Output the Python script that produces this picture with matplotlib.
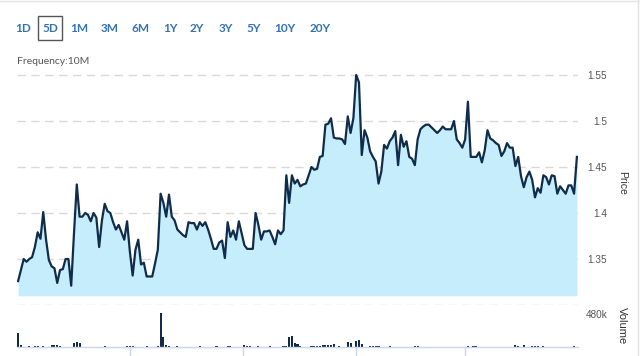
import matplotlib
matplotlib.use("Agg")
import matplotlib.pyplot as plt
from matplotlib.lines import Line2D
from matplotlib.patches import Rectangle
import numpy as np

# ---------------- data ----------------
prices = [
    # day 1
    1.326, 1.338, 1.350, 1.347, 1.350, 1.352, 1.363, 1.379, 1.372, 1.401,
    1.371, 1.349, 1.342, 1.340, 1.324, 1.338, 1.339, 1.350, 1.350, 1.321,
    1.378, 1.431, 1.396, 1.396, 1.400, 1.398, 1.391, 1.400, 1.395, 1.363,
    1.392, 1.410, 1.402, 1.400, 1.390, 1.382, 1.387, 1.379, 1.371, 1.391,
    # day 2
    1.358, 1.332, 1.360, 1.371, 1.344, 1.346, 1.331, 1.331, 1.331, 1.345,
    1.360, 1.421, 1.411, 1.396, 1.420, 1.396, 1.392, 1.382, 1.379, 1.376,
    1.374, 1.390, 1.389, 1.389, 1.382, 1.390, 1.386, 1.390, 1.382, 1.372,
    1.361, 1.361, 1.368, 1.370, 1.351, 1.390, 1.374, 1.381, 1.371, 1.391,
    1.378,
    # day 3
    1.365, 1.361, 1.361, 1.361, 1.400, 1.387, 1.371, 1.380, 1.380, 1.381,
    1.374, 1.366, 1.381, 1.377, 1.381, 1.441, 1.411, 1.441, 1.432, 1.436,
    1.429, 1.431, 1.432, 1.441, 1.450, 1.447, 1.448, 1.461, 1.462, 1.496,
    1.497, 1.503, 1.482, 1.481, 1.481, 1.480, 1.475, 1.505, 1.487, 1.503,
    # day 4
    1.550, 1.542, 1.463, 1.490, 1.482, 1.467, 1.461, 1.456, 1.432, 1.445,
    1.474, 1.470, 1.478, 1.482, 1.489, 1.452, 1.485, 1.472, 1.478, 1.461,
    1.459, 1.452, 1.480, 1.491, 1.494, 1.496, 1.496, 1.493, 1.490, 1.487,
    1.490, 1.494, 1.491, 1.491, 1.491, 1.500, 1.480, 1.476, 1.471, 1.480,
    1.521,
    # day 5
    1.461, 1.461, 1.461, 1.466, 1.455, 1.468, 1.490, 1.481, 1.479, 1.476,
    1.474, 1.462, 1.467, 1.476, 1.471, 1.471, 1.451, 1.461, 1.440, 1.428,
    1.439, 1.445, 1.436, 1.417, 1.427, 1.422, 1.441, 1.439, 1.431, 1.441,
    1.440, 1.421, 1.429, 1.425, 1.421, 1.430, 1.430, 1.421, 1.461,
]

vol_bar_index = [0, 1, 4, 6, 7, 9, 12, 13, 14, 15, 20, 21, 22, 31, 39, 40, 41,
                 46, 50, 51, 52, 53, 54, 57, 65, 71, 75, 76, 81, 82, 83, 86, 90,
                 95, 96, 97, 98, 99, 100, 101, 105, 106, 107, 108, 109, 110, 111,
                 112, 113, 115, 118, 119, 121, 122, 123, 126, 127, 128, 129, 133,
                 142, 143, 161, 163, 164, 178, 179, 181, 184, 185, 186, 188, 199]
vol_values = [200e3, 25e3, 15e3, 15e3, 15e3, 20e3, 30e3, 30e3, 25e3, 10e3,
              55e3, 70e3, 60e3, 20e3, 20e3, 20e3, 10e3,
              10e3, 10e3, 500e3, 140e3, 25e3, 20e3, 10e3, 10e3, 20e3, 15e3,
              10e3, 25e3, 15e3, 10e3, 10e3, 15e3,
              10e3, 10e3, 140e3, 160e3, 60e3, 50e3, 20e3, 10e3, 10e3, 10e3,
              15e3, 25e3, 35e3, 30e3, 35e3, 40e3, 10e3, 75e3, 60e3, 90e3,
              100e3, 40e3, 10e3, 10e3, 20e3, 10e3, 10e3,
              10e3, 10e3, 15e3, 10e3, 10e3, 25e3, 15e3, 25e3, 10e3, 15e3,
              10e3, 10e3, 20e3]

day_breaks = [40, 80.5, 121, 160]
price_ticks = [1.35, 1.40, 1.45, 1.50, 1.55]
price_tick_labels = ["1.35", "1.4", "1.45", "1.5", "1.55"]
price_grid = [1.30, 1.35, 1.40, 1.45, 1.50, 1.55]
volume_tick = 480e3
volume_tick_label = "480k"
range_buttons = ["1D", "5D", "1M", "3M", "6M", "1Y", "2Y", "3Y", "5Y", "10Y", "20Y"]
selected_button = "5D"
frequency_text = "Frequency:10M"

# ---------------- style ----------------
LINE = "#0f2d4a"
FILL = "#c6edfc"
GRID = "#d9d9d9"
AXLINE = "#ccd6eb"
TXT = "#555555"
BTN = "#3473b0"

W, H = 640, 356
fig = plt.figure(figsize=(W / 100, H / 100), dpi=100)
fig.patch.set_facecolor("white")

def fx(px):
    return px / W

def fy(py):
    return 1 - py / H

x_left, x_right = 17, 578
n = len(prices)
x = np.arange(n)
xlim = (-0.4, n - 1 + 0.4)

# price axes
ax = fig.add_axes([fx(x_left), fy(305), fx(x_right - x_left), (305 - 66) / H])
ax.set_xlim(*xlim)
ax.set_ylim(1.30, 1.30 + (305 - 66) / 46 * 0.05)
for g in price_grid:
    ax.axhline(g, color=GRID, lw=1, ls=(0, (6, 4)), zorder=0)
ax.fill_between(x, prices, 1.31, color=FILL, lw=0, zorder=1)
ax.plot(x, prices, color=LINE, lw=1.6, zorder=2, solid_joinstyle="round")
for s in ax.spines.values():
    s.set_visible(False)
ax.set_xticks([])
ax.yaxis.tick_right()
ax.set_yticks(price_ticks)
ax.set_yticklabels(price_tick_labels)
ax.tick_params(axis="y", length=0, pad=21, labelsize=7.2, labelcolor=TXT)
for lab in ax.get_yticklabels():
    lab.set_horizontalalignment("right")
    lab.set_fontfamily("Liberation Sans")
ax.set_facecolor("none")

# volume axes
vax = fig.add_axes([fx(x_left), fy(347), fx(x_right - x_left), (347 - 304) / H])
vax.set_xlim(*xlim)
vax.set_ylim(0, 630e3)
vax.bar(vol_bar_index, vol_values, width=0.75, color=LINE, zorder=2)
for s in ["top", "left", "right"]:
    vax.spines[s].set_visible(False)
vax.spines["bottom"].set_color(AXLINE)
vax.spines["bottom"].set_linewidth(1)
vax.set_xticks(day_breaks)
vax.set_xticklabels([])
vax.tick_params(axis="x", length=9, color=AXLINE, width=1, direction="out")
vax.yaxis.tick_right()
vax.set_yticks([volume_tick])
vax.set_yticklabels([volume_tick_label])
vax.tick_params(axis="y", length=0, pad=21, labelsize=7.2, labelcolor=TXT)
for lab in vax.get_yticklabels():
    lab.set_horizontalalignment("right")
    lab.set_fontfamily("Liberation Sans")
vax.set_facecolor("none")

# axis titles
fig.text(fx(622), fy(183), "Price", rotation=270, ha="center", va="center",
         fontsize=7.5, color="#333333", family="Liberation Sans")
fig.text(fx(622), fy(326), "Volume", rotation=270, ha="center", va="center",
         fontsize=8, color="#333333", family="Liberation Sans")

# range buttons
btn_centers = [23, 50, 79, 110, 141, 170, 197, 226, 254, 285, 320]
for lab, cx in zip(range_buttons, btn_centers):
    fig.text(fx(cx), fy(28), lab, ha="center", va="center", fontsize=8.5,
             color=BTN, family="Lato", fontweight="bold")
    if lab == selected_button:
        fig.add_artist(Rectangle((fx(cx - 12), fy(40)), fx(24), 24 / H,
                                 fill=False, ec="#555555", lw=1,
                                 transform=fig.transFigure))

fig.text(fx(17), fy(61), frequency_text, ha="left", va="center", fontsize=7.5,
         color=TXT, family="Lato")

# frame lines
fig.add_artist(Line2D([0, 1], [fy(0.5), fy(0.5)], color="#e3e3e3", lw=1,
                      transform=fig.transFigure))
fig.add_artist(Line2D([fx(637.5), fx(637.5)], [0, 1], color="#e3e3e3", lw=1,
                      transform=fig.transFigure))

fig.savefig("out.png", dpi=100, facecolor="white")
